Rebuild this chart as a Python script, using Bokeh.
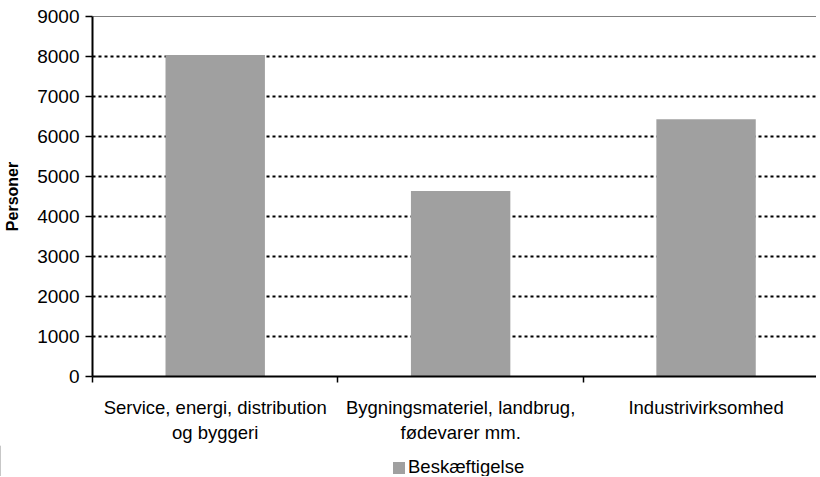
from bokeh.plotting import figure
from bokeh.layouts import column, row
from bokeh.models import (FixedTicker, Span, Legend, LegendItem, ColumnDataSource)
from bokeh.embed import file_html
from bokeh.resources import INLINE

categories = ["Service, energi, distribution\nog byggeri",
              "Bygningsmateriel, landbrug,\nfødevarer mm.",
              "Industrivirksomhed"]
positions = [1, 2, 3]
values = [8040, 4640, 6430]
series_name = "Beskæftigelse"
y_ticks = [0, 1000, 2000, 3000, 4000, 5000, 6000, 7000, 8000, 9000]

FONT = "Liberation Sans"
BAR = "#A0A0A0"

p = figure(width=816, height=445, output_backend="svg", toolbar_location=None,
           x_range=(0.5, 3.45), y_range=(0, 9000),
           min_border_left=92, min_border_top=16, min_border_right=0,
           min_border_bottom=68)
p.outline_line_color = None
p.background_fill_color = "white"
p.border_fill_color = "white"

src = ColumnDataSource(dict(x=positions, top=values))
r = p.vbar(x="x", top="top", width=0.405, source=src, fill_color=BAR, line_color=None)

# y axis
yax = p.yaxis[0]
yax.ticker = FixedTicker(ticks=y_ticks, minor_ticks=[])
yax.axis_line_width = 2
yax.axis_line_color = "black"
yax.major_tick_out = 7
yax.major_tick_in = 0
yax.major_tick_line_width = 1.5
yax.minor_tick_out = 0
yax.minor_tick_in = 0
yax.major_label_text_font = FONT
yax.major_label_text_font_size = "19px"
yax.major_label_text_color = "black"
yax.major_label_standoff = 6
yax.axis_label = "Personer"
yax.axis_label_text_font = FONT
yax.axis_label_text_font_size = "16px"
yax.axis_label_text_font_style = "bold"
yax.axis_label_text_color = "black"
yax.axis_label_standoff = 13

# x axis
xax = p.xaxis[0]
xax.ticker = FixedTicker(ticks=positions, minor_ticks=[0.5, 1.5, 2.5, 3.5])
xax.major_label_overrides = {pos: lab for pos, lab in zip(positions, categories)}
xax.axis_line_width = 2
xax.axis_line_color = "black"
xax.major_tick_out = 0
xax.major_tick_in = 0
xax.minor_tick_out = 6
xax.minor_tick_in = 0
xax.minor_tick_line_width = 1.5
xax.minor_tick_line_color = "black"
xax.major_label_text_font = FONT
xax.major_label_text_font_size = "18.5px"
xax.major_label_text_color = "black"
xax.major_label_standoff = 14

# grid
p.xgrid.grid_line_color = None
p.ygrid.ticker = FixedTicker(ticks=y_ticks[1:])
p.ygrid.grid_line_color = "black"
p.ygrid.grid_line_width = 2
p.ygrid.grid_line_dash = "3 3"
p.add_layout(Span(location=9000, dimension="width", line_color="black", line_width=1))

# legend strip (a zero-width copy of the series feeds the legend swatch only)
p2 = figure(width=816, height=31, output_backend="svg", toolbar_location=None,
            x_range=(10, 11), y_range=(0, 1),
            x_axis_location=None, y_axis_location=None,
            min_border_left=0, min_border_top=0, min_border_right=0,
            min_border_bottom=0)
p2.outline_line_color = None
p2.background_fill_color = "white"
p2.border_fill_color = "white"
p2.xgrid.grid_line_color = None
p2.ygrid.grid_line_color = None
r2 = p2.vbar(x="x", top="top", width=0, source=src, fill_color=BAR, line_color=None)
legend = Legend(items=[LegendItem(label=series_name, renderers=[r2])],
                orientation="horizontal", location=(391, -2),
                border_line_color=None, background_fill_alpha=0,
                glyph_width=15, glyph_height=15, label_standoff=2,
                label_height=15,
                padding=0, margin=0, spacing=0,
                label_text_font=FONT, label_text_font_size="18.5px",
                label_text_color="black")
p2.add_layout(legend, "center")

layout = column(p, row(p2, spacing=0), spacing=0)
open("out.html", "w").write(file_html(layout, INLINE))
